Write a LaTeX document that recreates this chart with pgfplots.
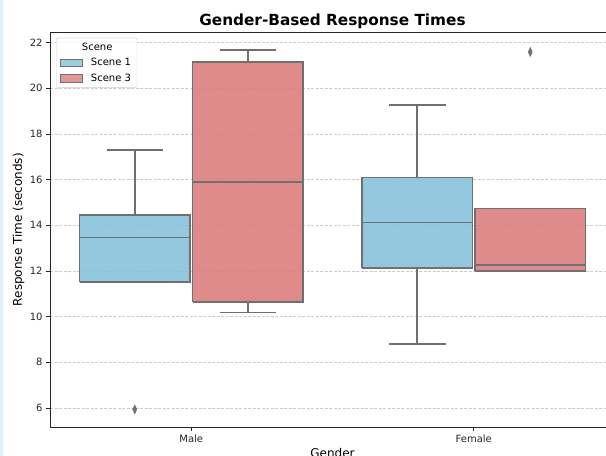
\documentclass[border=0pt]{standalone}
\usepackage{fontspec}
\setmainfont{DejaVu Sans}
\usepackage{pgfplots}
\pgfplotsset{compat=1.18}
\definecolor{sone}{RGB}{136,194,218}
\definecolor{sthree}{RGB}{220,126,128}
\definecolor{lc}{RGB}{112,112,112}
\definecolor{gridc}{RGB}{204,204,204}
\definecolor{spine}{RGB}{38,38,38}
\definecolor{strip}{RGB}{222,242,251}
\pgfplotsset{
  wsk/.style={draw=lc, line width=1.6bp, no marks, forget plot},
  bx/.style={draw=lc, line width=1.6bp, no marks, forget plot, fill=#1, fill opacity=0.9},
  outl/.style={only marks, mark=diamond*, mark size=4.5bp,
    mark options={fill=lc, draw=lc, line width=0.5bp, xscale=0.6}, forget plot},
}
\begin{document}
\begin{tikzpicture}
\fill[strip] (0,0) rectangle (3bp,456bp);
\begin{axis}[
  at={(50bp,29bp)}, anchor=south west,
  scale only axis, width=565bp, height=394.7bp,
  xmin=-0.5, xmax=1.5, ymin=5.17, ymax=22.45,
  xtick={0,1}, xticklabels={Male,Female},
  ytick={6,8,...,22},
  /pgf/number format/assume math mode=true,
  tick label style={font=\fontsize{10bp}{12bp}\selectfont, color=spine},
  tick align=outside, tick pos=left, major tick length=4bp,
  tick style={color=spine, line width=0.8bp},
  axis line style={color=spine, line width=1bp},
  ymajorgrids,
  grid style={gridc, line width=0.8bp, dash pattern=on 3bp off 1.5bp},
  title={Gender-Based Response Times},
  title style={font=\bfseries\fontsize{15.3bp}{18bp}\selectfont, at={(0.5,1)}, anchor=base, yshift=0.5bp},
  ylabel={Response Time (seconds)},
  ylabel style={font=\fontsize{12bp}{14bp}\selectfont, at={(axis description cs:-0.0496,0.5)}, anchor=base},
  xlabel={Gender},
  xlabel style={font=\fontsize{12bp}{14bp}\selectfont, at={(axis description cs:0.5,0)}, anchor=north, inner sep=0pt, yshift=-21bp},
  legend style={at={(0,1)}, anchor=north west, xshift=6bp, yshift=-5.4bp,
    draw=gridc, rounded corners=2bp, fill=white, fill opacity=0.8, text opacity=1,
    font=\fontsize{10bp}{12bp}\selectfont, cells={anchor=west}, row sep=2.5bp, column sep=6bp,
    inner xsep=4bp, inner ysep=3bp},
  legend image code/.code={\draw[#1, line width=0.8bp, sharp corners] (0bp,-3.8bp) rectangle (22bp,3.8bp);},
]
\addlegendimage{empty legend}
\addlegendentry{\hspace*{-9bp}Scene}
\addlegendimage{fill=sone, draw=lc}
\addlegendentry{Scene 1}
\addlegendimage{fill=sthree, draw=lc}
\addlegendentry{Scene 3}

% ---- Male, Scene 1 (centre -0.2): whisker 11.53-17.30, box 11.53-14.45, median 13.46, outlier 5.94
\addplot[wsk] coordinates {(-0.2,14.45) (-0.2,17.30)};
\addplot[wsk] coordinates {(-0.3,17.30) (-0.1,17.30)};
\addplot[bx=sone] coordinates {(-0.395,11.53) (-0.005,11.53) (-0.005,14.45) (-0.395,14.45) (-0.395,11.53)};
\addplot[wsk] coordinates {(-0.395,13.46) (-0.005,13.46)};
\addplot[outl] coordinates {(-0.2,5.94)};

% ---- Male, Scene 3 (centre 0.2): whisker 10.19-21.68, box 10.63-21.15, median 15.90
\addplot[wsk] coordinates {(0.2,10.19) (0.2,10.63)};
\addplot[wsk] coordinates {(0.1,10.19) (0.3,10.19)};
\addplot[wsk] coordinates {(0.2,21.15) (0.2,21.68)};
\addplot[wsk] coordinates {(0.1,21.68) (0.3,21.68)};
\addplot[bx=sthree] coordinates {(0.005,10.63) (0.395,10.63) (0.395,21.15) (0.005,21.15) (0.005,10.63)};
\addplot[wsk] coordinates {(0.005,15.90) (0.395,15.90)};

% ---- Female, Scene 1 (centre 0.8): whisker 8.80-19.27, box 12.12-16.10, median 14.13
\addplot[wsk] coordinates {(0.8,8.80) (0.8,12.12)};
\addplot[wsk] coordinates {(0.7,8.80) (0.9,8.80)};
\addplot[wsk] coordinates {(0.8,16.10) (0.8,19.27)};
\addplot[wsk] coordinates {(0.7,19.27) (0.9,19.27)};
\addplot[bx=sone] coordinates {(0.605,12.12) (0.995,12.12) (0.995,16.10) (0.605,16.10) (0.605,12.12)};
\addplot[wsk] coordinates {(0.605,14.13) (0.995,14.13)};

% ---- Female, Scene 3 (centre 1.2): whisker 12.00-14.74, box 12.01-14.74, median 12.26, outlier 21.59
\addplot[wsk] coordinates {(1.1,12.00) (1.3,12.00)};
\addplot[bx=sthree] coordinates {(1.005,12.01) (1.395,12.01) (1.395,14.74) (1.005,14.74) (1.005,12.01)};
\addplot[wsk] coordinates {(1.005,12.26) (1.395,12.26)};
\addplot[outl] coordinates {(1.2,21.59)};
\end{axis}
\pgfresetboundingbox
\path[use as bounding box] (0,0) rectangle (606bp,456bp);
\end{tikzpicture}
\end{document}
